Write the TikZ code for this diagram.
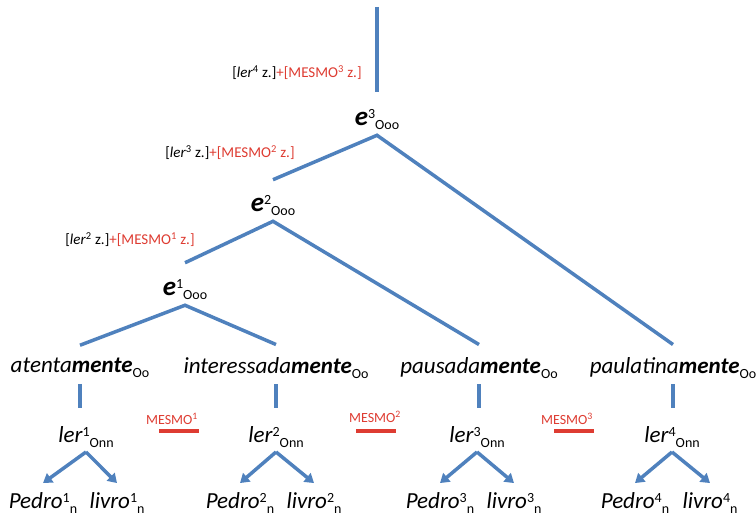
\documentclass[tikz,border=0pt]{standalone}
\usepackage{fontspec}
\setmainfont{Carlito}
\usetikzlibrary{arrows.meta}

\definecolor{lineblue}{RGB}{79,129,189}
\definecolor{markred}{RGB}{222,60,50}

\newcommand{\hi}[1]{\raisebox{6.5pt}{\fontsize{14}{14}\selectfont\upshape\mdseries #1}}
\newcommand{\lo}[1]{\raisebox{-4.5pt}{\fontsize{14}{14}\selectfont\upshape\mdseries #1}}
\newcommand{\evt}[1]{{\fontsize{27}{27}\selectfont\bfseries\itshape e}\hi{#1}\lo{Ooo}}
\newcommand{\verbo}[1]{\textit{ler}\hi{#1}\lo{Onn}}
\newcommand{\argm}[2]{\textit{#1}\hi{#2}\lo{n}}
\newcommand{\adv}[1]{\textit{#1\textbf{mente}}\lo{Oo}}
\newcommand{\zlabel}[2]{[\textit{ler}\textsuperscript{#1} z.]\textcolor{markred}{+[MESMO\textsuperscript{#2} z.]}}

\begin{document}
\begin{tikzpicture}[x=1pt,y=-1pt,
	every node/.style={font=\fontsize{23}{26}\selectfont, inner sep=2pt},
	branch/.style={draw=lineblue, line width=3.5pt},
	arr/.style={branch, -{Triangle[length=9pt,width=11pt]}},
	note/.style={font=\fontsize{15}{17}\selectfont},
	sametext/.style={text=markred, font=\fontsize{14}{16}\selectfont},
	bar/.style={fill=markred, minimum width=40pt, minimum height=4pt, inner sep=0pt}]
	
	\useasboundingbox (0,0) rectangle (756,519);
	
	% events
	\coordinate (top) at (377,7);
	\node (e3) at (377,120) {\evt{3}};
	\node (e2) at (273,206) {\evt{2}};
	\node (e1) at (185,290) {\evt{1}};
	
	\node[note] (z3) at (297,73)  {\zlabel{4}{3}};
	\node[note] (z2) at (230,153) {\zlabel{3}{2}};
	\node[note] (z1) at (130,240) {\zlabel{2}{1}};
	
	% adverbs
	\node (atenta)  at (80,368)  {\adv{atenta}};
	\node (interes) at (276,368) {\adv{interessada}};
	\node (pausada) at (479,368) {\adv{pausada}};
	\node (paulat)  at (673,368) {\adv{paulatina}};
	
	% verbs
	\node (ler1) at (86,437)  {\verbo{1}};
	\node (ler2) at (276,437) {\verbo{2}};
	\node (ler3) at (477,437) {\verbo{3}};
	\node (ler4) at (672,437) {\verbo{4}};
	
	% arguments
	\node (pedro1) at (43,503)  {\argm{Pedro}{1}};
	\node (livro1) at (117,503) {\argm{livro}{1}};
	\node (pedro2) at (240,503) {\argm{Pedro}{2}};
	\node (livro2) at (314,503) {\argm{livro}{2}};
	\node (pedro3) at (440,503) {\argm{Pedro}{3}};
	\node (livro3) at (514,503) {\argm{livro}{3}};
	\node (pedro4) at (635,503) {\argm{Pedro}{4}};
	\node (livro4) at (710,503) {\argm{livro}{4}};
	
	% MESMO marks
	\node[sametext] (m1) at (172,419) {MESMO\textsuperscript{1}};
	\node[sametext] (m2) at (375,417) {MESMO\textsuperscript{2}};
	\node[sametext] (m3) at (567,419) {MESMO\textsuperscript{3}};
	\node[bar] (b1) at (179,431) {};
	\node[bar] (b2) at (376,431) {};
	\node[bar] (b3) at (574,431) {};
	
	% tree
	\draw[branch] (top) -- ([yshift=16pt]e3.north);
	\draw[branch] ([yshift=14pt]e2.north) -- ([yshift=-3pt]e3.south) -- ([yshift=11pt]paulat.north);
	\draw[branch] ([yshift=15pt]e1.north) -- ([yshift=-3pt]e2.south) -- ([yshift=11pt]pausada.north);
	\draw[branch] ([yshift=11pt]atenta.north) -- ([yshift=-3pt]e1.south) -- ([yshift=11pt]interes.north);
	
	\draw[branch] ([yshift=-4pt]atenta.south) -- ([yshift=16.5pt]atenta.south |- ler1.north);
	\draw[branch] ([yshift=-4pt]interes.south) -- ([yshift=16.5pt]interes.south |- ler2.north);
	\draw[branch] ([yshift=-4pt]pausada.south) -- ([yshift=16.5pt]pausada.south |- ler3.north);
	\draw[branch] ([yshift=-4pt]paulat.south) -- ([yshift=16.5pt]paulat.south |- ler4.north);
	
	\draw[arr] ([yshift=-2.5pt]ler1.south) -- ([yshift=7.5pt]pedro1.north);
	\draw[arr] ([yshift=-2.5pt]ler1.south) -- ([yshift=7.5pt]livro1.north);
	\draw[arr] ([yshift=-2.5pt]ler2.south) -- ([yshift=7.5pt]pedro2.north);
	\draw[arr] ([yshift=-2.5pt]ler2.south) -- ([yshift=7.5pt]livro2.north);
	\draw[arr] ([yshift=-2.5pt]ler3.south) -- ([yshift=7.5pt]pedro3.north);
	\draw[arr] ([yshift=-2.5pt]ler3.south) -- ([yshift=7.5pt]livro3.north);
	\draw[arr] ([yshift=-2.5pt]ler4.south) -- ([yshift=7.5pt]pedro4.north);
	\draw[arr] ([yshift=-2.5pt]ler4.south) -- ([yshift=7.5pt]livro4.north);
	
\end{tikzpicture}
\end{document}
